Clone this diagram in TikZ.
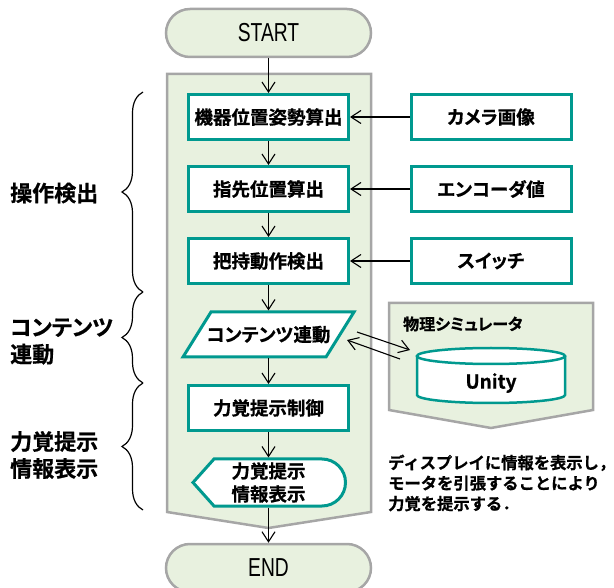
\documentclass[tikz,border=0pt]{standalone}
\usepackage{fontspec}
\setmainfont{Noto Sans CJK JP}[BoldFont={Noto Sans CJK JP Bold},BoldFeatures={FakeBold=0.7},RawFeature=+palt]
\newfontfamily\notefont{Noto Sans CJK JP Bold}[FakeBold=0.7]
\newfontfamily\startfont{Liberation Sans}[FakeStretch=0.74]
\usetikzlibrary{arrows.meta,decorations.pathreplacing}
\definecolor{panelg}{HTML}{E8F1DF}
\definecolor{graybd}{HTML}{A6A6A6}
\definecolor{tealbd}{HTML}{00998F}
\begin{document}
\begin{tikzpicture}[x=1pt,y=-1pt,
  panel/.style={fill=panelg, draw=graybd, line width=2.5pt},
  pill/.style={panel, rounded corners=24pt, minimum width=205pt, minimum height=48pt, inner sep=0pt,
    font=\startfont\fontsize{26}{30}\selectfont},
  procbox/.style={draw=tealbd, line width=3pt, fill=white, minimum width=160pt, minimum height=45pt,
    inner sep=0pt, font=\bfseries\fontsize{18.5}{22}\selectfont},
  tealline/.style={draw=tealbd, line width=3pt, fill=white},
  ghost/.style={inner sep=0pt, outer sep=1.5pt, font=\bfseries\fontsize{18.5}{22}\selectfont},
  flow/.style={-{Straight Barb[length=10pt,width=13pt]}, line width=1.1pt},
  sidelbl/.style={anchor=west, align=left, inner sep=0pt, font=\bfseries\fontsize{22}{27}\selectfont},
  bracestyle/.style={decorate, decoration={brace, amplitude=21pt}, line width=1.2pt}
]
\useasboundingbox (0,0) rectangle (614,588);
\clip (0,0) rectangle (614,588);

% main panel
\draw[panel] (167,74) -- (371,74) -- (371,512) -- (268.5,528) -- (167,512) -- cycle;
% simulator panel
\draw[panel] (389,303) -- (593,303) -- (593,410) -- (491,428) -- (389,410) -- cycle;

% start / end
\node[pill] (start) at (268.5,33) {START};
\node[pill] (end) at (268.5,568) {END};

% process boxes
\node[procbox] (b1) at (268.5,117) {機器位置姿勢算出};
\node[procbox] (b2) at (268.5,189) {指先位置算出};
\node[procbox] (b3) at (268.5,261) {把持動作検出};
\node[procbox] (b4) at (268.5,408) {力覚提示制御};

% input boxes
\node[procbox] (cam) at (491,117) {カメラ画像};
\node[procbox] (enc) at (491,189) {エンコーダ値};
\node[procbox] (sw)  at (491,261) {スイッチ};

% parallelogram
\draw[tealline] (211,312) -- (354,312) -- (326,357) -- (183,357) -- cycle;
\node[ghost, minimum width=143pt, minimum height=45pt] (para) at (268.5,334.5) {コンテンツ連動};

% display shape
\draw[tealline] (193,482.5) -- (214,459) -- (322,459) arc(-90:90:23.5) -- (214,506) -- cycle;
\node[ghost, minimum width=150pt, minimum height=47pt, align=center,
  font=\bfseries\fontsize{18.5}{23}\selectfont] (disp) at (268.5,482.5) {力覚提示\\情報表示};

% cylinder
\draw[tealline, line width=2.5pt] (417,356) -- (417,395) arc(180:0:74 and 8) -- (565,356);
\draw[tealline, line width=2.5pt] (491,356) ellipse (74 and 8);
\node[ghost, font=\bfseries\fontsize{19}{22}\selectfont] (unity) at (491,383) {Unity};

% labels
\node[anchor=west, inner sep=0pt, font=\bfseries\fontsize{16}{20}\selectfont] (simlbl) at (403,324) {物理シミュレータ};
\node[anchor=west, align=left, inner sep=0pt, font=\notefont\fontsize{16.3}{20.5}\selectfont] (note) at (388,483)
  {ディスプレイに情報を表示し，\\モータを引張することにより\\力覚を提示する．};

\node[sidelbl] (l1) at (10,193) {操作検出};
\node[sidelbl] (l2) at (10,341.5) {コンテンツ\\連動};
\node[sidelbl] (l3) at (10,455) {力覚提示\\情報表示};

% braces
\coordinate (br0) at (143,92);
\coordinate (br1) at (143,292);
\coordinate (br2) at (143,383);
\coordinate (br3) at (143,510);
\draw[bracestyle] (br1) -- (br0);
\draw[bracestyle] (br2) -- (br1);
\draw[bracestyle] (br3) -- (br2);

% flow arrows
\draw[flow] (start.south) -- (b1.north);
\draw[flow] (b1.south) -- (b2.north);
\draw[flow] (b2.south) -- (b3.north);
\draw[flow] (b3.south) -- (para.north);
\draw[flow] (para.south) -- (b4.north);
\draw[flow] (b4.south) -- (disp.north);
\draw[flow] (disp.south) -- (end.north);

\draw[flow] (cam.west) -- (b1.east);
\draw[flow] (enc.west) -- (b2.east);
\draw[flow] (sw.west) -- (b3.east);

% exchange arrows
\coordinate (xa1) at (357,332);
\coordinate (xa2) at (410,350);
\coordinate (xb1) at (400,359);
\coordinate (xb2) at (347,340);
\draw[flow] (xa1) -- (xa2);
\draw[flow] (xb1) -- (xb2);
\end{tikzpicture}
\end{document}
